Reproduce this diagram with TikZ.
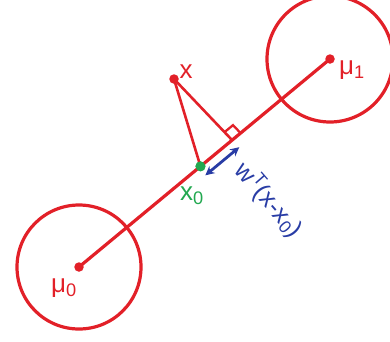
\documentclass[tikz,border=0pt]{standalone}
\usepackage{fontspec}
\setmainfont{Liberation Sans}
\usetikzlibrary{arrows.meta,calc}
\definecolor{myred}{RGB}{226,32,40}
\definecolor{mygreen}{RGB}{34,168,80}
\definecolor{myblue}{RGB}{40,60,165}
\tikzset{
  redline/.style={draw=myred, line width=3.2pt},
  thinred/.style={draw=myred, line width=2.6pt},
  reddot/.style={circle, fill=myred, inner sep=0pt, minimum size=9.5pt},
  greendot/.style={circle, fill=mygreen, inner sep=0pt, minimum size=10pt},
  lbl/.style={inner sep=0pt, font=\fontsize{26}{30}\selectfont},
}
\begin{document}
\begin{tikzpicture}[x=1pt,y=-1pt]
\useasboundingbox (0,0) rectangle (390,341);
\node[reddot] (mu0) at (79,267) {};
\node[reddot] (mu1) at (330,59) {};
\draw[redline] (mu0.center) circle[radius=62pt];
\draw[redline] (mu1.center) circle[radius=63pt];
\node[reddot] (x) at (174,79) {};
\coordinate (F) at ($(mu0.center)!0.61!(mu1.center)$);
\node[greendot] (x0) at ($(mu0.center)!0.484!(mu1.center)$) {};
\draw[redline] (mu0.center) -- (mu1.center);
\draw[thinred] (x.center) -- (x0.center);
\draw[thinred] (x.center) -- (F);
\coordinate (Fa) at ($(F)!11pt!(mu1.center)$);
\coordinate (Fb) at ($(F)!11pt!(x.center)$);
\draw[thinred, line width=2.3pt] (Fa) -- ($(Fa)+(Fb)-(F)$) -- (Fb);
\node[greendot] at (x0) {};
% blue arrow
\coordinate (B1) at ($(x0.center)!10pt!-90:(mu1.center)$);
\coordinate (B2) at ($(F)!10pt!90:(mu0.center)$);
\draw[myblue, line width=2.8pt, {Stealth[length=9pt,width=9pt]}-{Stealth[length=9pt,width=9pt]}, shorten <=-2pt, shorten >=-1pt] (B1) -- (B2);
% labels
\node[lbl, text=myred] (xl) at (186,72) {x};
\node[lbl, text=mygreen] (x0l) at (192,196) {x\textsubscript{0}};
\node[lbl, text=myred] (mu0l) at (64,288) {μ\textsubscript{0}};
\node[lbl, text=myred] (mu1l) at (352,70) {μ\textsubscript{1}};
\node[lbl, text=myblue, rotate=-49, font=\fontsize{25}{28}\selectfont] (wl) at (269,200) {w\textsuperscript{T}(x-x\textsubscript{0})};
\end{tikzpicture}
\end{document}
